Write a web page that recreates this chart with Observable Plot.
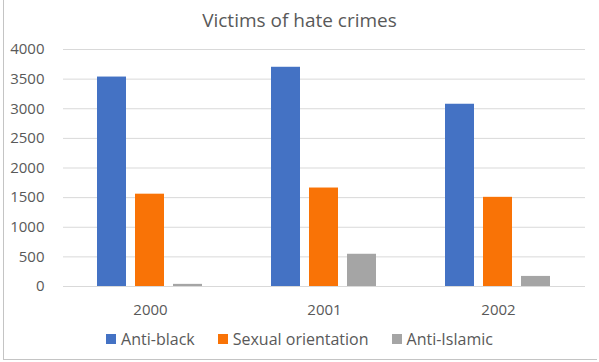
<!DOCTYPE html>
<html>
<head>
<meta charset="utf-8">
<script src="https://cdn.jsdelivr.net/npm/d3@7"></script>
<script src="https://cdn.jsdelivr.net/npm/@observablehq/plot@0.6"></script>
<style>
  html, body { margin: 0; padding: 0; background: #fff; }
  #wrap { position: relative; width: 599px; height: 362px; overflow: hidden; font-family: "Open Sans", Lato, sans-serif; color: #595959; }
  #frame { position: absolute; left: 3px; top: -2px; width: 594px; height: 362px; border-left: 1px solid #c4c4c4; border-bottom: 1px solid #c4c4c4; box-sizing: border-box; }
  #title { position: absolute; left: 0; top: 8px; width: 599px; text-align: center; font-size: 19px; line-height: 24px; }
  #chart { position: absolute; left: 0; top: 30px; }
  #legend { position: absolute; left: 0; top: 330px; width: 599px; display: flex; justify-content: center; align-items: center; gap: 23px; font-size: 16px; line-height: 18px; }
  .item { display: flex; align-items: center; gap: 5px; }
  .sw { width: 10px; height: 10px; display: inline-block; }
</style>
</head>
<body>
<div id="wrap">
  <div id="frame"></div>
  <div id="title">Victims of hate crimes</div>
  <div id="chart"></div>
  <div id="legend"></div>
</div>
<script>
const years = ["2000", "2001", "2002"];
const series = ["Anti-black", "Sexual orientation", "Anti-Islamic"];
const colors = ["#4472C4", "#F97306", "#A5A5A5"];
const antiBlack = [3535, 3700, 3076];
const sexualOrientation = [1558, 1662, 1505];
const antiIslamic = [36, 544, 170];
const yTicks = [0, 500, 1000, 1500, 2000, 2500, 3000, 3500, 4000];

const valuesBySeries = [antiBlack, sexualOrientation, antiIslamic];
const data = [];
years.forEach((yr, i) => {
  series.forEach((s, j) => data.push({year: yr, series: s, value: valuesBySeries[j][i]}));
});

const chart = Plot.plot({
  width: 599,
  height: 290,
  marginTop: 19,
  marginBottom: 34,
  marginLeft: 62,
  marginRight: 13,
  style: {fontSize: "15px", fontFamily: "'Open Sans', Lato, sans-serif", color: "#595959", background: "transparent"},
  fx: {domain: years, padding: 0, label: null, tickSize: 0, tickPadding: 18, axis: "bottom"},
  x: {domain: series, paddingInner: 0.23, paddingOuter: 0.855, axis: null},
  y: {domain: [0, 4000], ticks: yTicks, tickFormat: d => String(d), tickSize: 0, tickPadding: 19, label: null},
  color: {domain: series, range: colors},
  marks: [
    Plot.ruleY(yTicks, {stroke: "#d9d9d9", strokeWidth: 1}),
    Plot.barY(data, {fx: "year", x: "series", y: "value", fill: "series"})
  ]
});
document.getElementById("chart").appendChild(chart);

const legend = document.getElementById("legend");
series.forEach((s, j) => {
  const it = document.createElement("div");
  it.className = "item";
  const sw = document.createElement("span");
  sw.className = "sw";
  sw.style.background = colors[j];
  const tx = document.createElement("span");
  tx.textContent = s;
  it.appendChild(sw);
  it.appendChild(tx);
  legend.appendChild(it);
});
</script>
</body>
</html>
